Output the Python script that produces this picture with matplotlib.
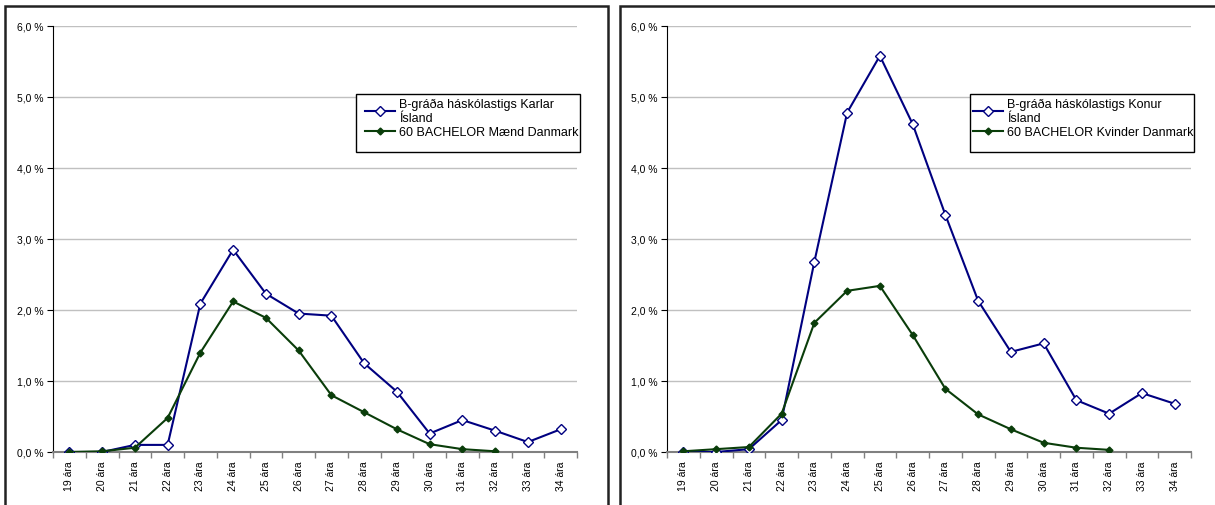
import matplotlib.pyplot as plt
from matplotlib.patches import Rectangle
from matplotlib.ticker import FuncFormatter, FixedLocator
import numpy as np

plt.rcParams['font.family'] = ['Liberation Sans', 'DejaVu Sans']

# aldur
ages = ['19 ára', '20 ára', '21 ára', '22 ára', '23 ára', '24 ára', '25 ára', '26 ára',
        '27 ára', '28 ára', '29 ára', '30 ára', '31 ára', '32 ára', '33 ára', '34 ára']

# karlar
karlar_is = [0.0, 0.0, 0.10, 0.10, 2.09, 2.85, 2.23, 1.95, 1.92, 1.25, 0.85, 0.26, 0.45, 0.30, 0.14, 0.32]
maend_dk = [0.0, 0.01, 0.06, 0.48, 1.40, 2.12, 1.89, 1.43, 0.80, 0.56, 0.32, 0.11, 0.04, 0.01]

# konur
konur_is = [0.0, 0.0, 0.04, 0.45, 2.68, 4.78, 5.58, 4.62, 3.34, 2.13, 1.41, 1.53, 0.73, 0.54, 0.83, 0.68]
kvinder_dk = [0.01, 0.04, 0.07, 0.54, 1.82, 2.27, 2.34, 1.65, 0.89, 0.53, 0.32, 0.13, 0.06, 0.03]

lbl_karlar = 'B-gráða háskólastigs Karlar\nÍsland'
lbl_maend = '60 BACHELOR Mænd Danmark'
lbl_konur = 'B-gráða háskólastigs Konur\nÍsland'
lbl_kvinder = '60 BACHELOR Kvinder Danmark'

W, H = 1215, 506
fig = plt.figure(figsize=(W / 100, H / 100), dpi=100)

# rammar utan um hvort graf
fig.patches.append(Rectangle((5 / W, -0.05), 603 / W, 1.05 - 7 / H, transform=fig.transFigure,
                             fill=False, edgecolor='#222222', linewidth=1.8))
fig.patches.append(Rectangle((620 / W, -0.05), 0.6, 1.05 - 7 / H, transform=fig.transFigure,
                             fill=False, edgecolor='#222222', linewidth=1.8))


def teikna(left_px, blue, green, lb, lg, leg_x, leg_pad):
    ax = fig.add_axes([left_px / W, 53 / H, 524 / W, 426 / H])
    x = np.arange(len(ages))
    ax.plot(x, blue, color='#000080', linewidth=1.5, marker='D', markersize=5,
            markerfacecolor='white', markeredgecolor='#000080', markeredgewidth=1, label=lb, zorder=3)
    ax.plot(x[:len(green)], green, color='#0a3d0a', linewidth=1.5, marker='D', markersize=3.5,
            markerfacecolor='#0a3d0a', markeredgecolor='#0a3d0a', label=lg, zorder=3)
    ax.set_xlim(-0.5, len(ages) - 0.5)
    ax.set_ylim(0, 6)
    ax.set_yticks(np.arange(0, 7, 1))
    ax.yaxis.set_major_formatter(FuncFormatter(lambda v, p: ('%.1f %%' % v).replace('.', ',')))
    ax.grid(axis='y', color='#c0c0c0', linewidth=1)
    ax.set_axisbelow(True)
    for s in ['top', 'right']:
        ax.spines[s].set_visible(False)
    ax.spines['left'].set_color('black')
    ax.spines['bottom'].set_color('#808080')
    ax.spines['bottom'].set_linewidth(1.5)
    ax.set_xticks(x)
    ax.set_xticklabels(ages, rotation=90, fontsize=7.5)
    ax.tick_params(axis='x', length=0, pad=6)
    ax.xaxis.set_minor_locator(FixedLocator(np.arange(-0.5, len(ages), 1)))
    ax.tick_params(axis='x', which='minor', length=4, color='#808080', width=1)
    ax.tick_params(axis='y', labelsize=7.5, length=4, pad=3)

    # legend med eigin ramma
    ax.add_patch(Rectangle((leg_x / W, 1 - 153 / H), 224 / W, 58 / H, transform=fig.transFigure,
                           fill=True, facecolor='white', edgecolor='black', linewidth=1,
                           zorder=4, clip_on=False))
    leg = ax.legend(loc='upper left', bbox_to_anchor=((leg_x + leg_pad) / W, 1 - 99 / H),
                    bbox_transform=fig.transFigure,
                    prop={'size': 9}, frameon=False, borderpad=0,
                    handlelength=2.4, handletextpad=0.3, labelspacing=0.12, borderaxespad=0)
    for t in leg.get_texts():
        t.set_linespacing(1.25)
    leg.set_zorder(5)
    return ax


teikna(53, karlar_is, maend_dk, lbl_karlar, lbl_maend, 356, 9)
teikna(667, konur_is, kvinder_dk, lbl_konur, lbl_kvinder, 970, 3)

fig.savefig('out.png', dpi=100)
